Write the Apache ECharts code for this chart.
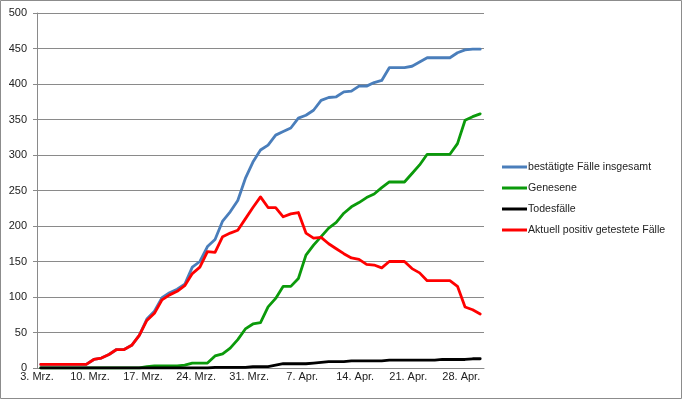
<!DOCTYPE html>
<html>
<head>
<meta charset="utf-8">
<script src="https://cdn.jsdelivr.net/npm/echarts@6/dist/echarts.min.js"></script>
<style>
  html, body { margin: 0; padding: 0; background: #fff; }
  #chart { width: 682px; height: 399px; }
</style>
</head>
<body>
<div id="chart"></div>
<script>
// Tage 3. Mrz. bis 30. Apr.
const days = [
  '3. Mrz.', '4. Mrz.', '5. Mrz.', '6. Mrz.', '7. Mrz.', '8. Mrz.', '9. Mrz.',
  '10. Mrz.', '11. Mrz.', '12. Mrz.', '13. Mrz.', '14. Mrz.', '15. Mrz.', '16. Mrz.',
  '17. Mrz.', '18. Mrz.', '19. Mrz.', '20. Mrz.', '21. Mrz.', '22. Mrz.', '23. Mrz.',
  '24. Mrz.', '25. Mrz.', '26. Mrz.', '27. Mrz.', '28. Mrz.', '29. Mrz.', '30. Mrz.',
  '31. Mrz.', '1. Apr.', '2. Apr.', '3. Apr.', '4. Apr.', '5. Apr.', '6. Apr.',
  '7. Apr.', '8. Apr.', '9. Apr.', '10. Apr.', '11. Apr.', '12. Apr.', '13. Apr.',
  '14. Apr.', '15. Apr.', '16. Apr.', '17. Apr.', '18. Apr.', '19. Apr.', '20. Apr.',
  '21. Apr.', '22. Apr.', '23. Apr.', '24. Apr.', '25. Apr.', '26. Apr.', '27. Apr.',
  '28. Apr.', '29. Apr.', '30. Apr.'
]

const bestaetigt = [
  5, 5, 5, 5, 5, 5, 5, 12, 14, 19, 26, 26, 32, 46, 69, 80, 99, 106, 111, 118,
  142, 150, 171, 181, 207, 220, 236, 267, 290, 307, 314, 328, 333, 338, 352, 356,
  363, 377, 381, 382, 389, 390, 397, 397, 402, 405, 423, 423, 423, 425, 431, 437,
  437, 437, 437, 444, 448, 449, 449
]

const genesen = [
  0, 0, 0, 0, 0, 0, 0, 0, 0, 0, 0, 0, 0, 0, 2, 3, 3, 3, 3, 4,
  7, 7, 7, 17, 20, 28, 40, 55, 62, 64, 86, 98, 115, 115, 126, 159,
  173, 185, 197, 205, 218, 227, 233, 240, 245, 254, 262, 262, 262, 274, 286, 301,
  301, 301, 301, 316, 349, 354, 358
]

const todesfaelle = [
  0, 0, 0, 0, 0, 0, 0, 0, 0, 0, 0, 0, 0, 0, 0, 0, 0, 0, 0, 0,
  0, 0, 0, 1, 1, 1, 1, 1, 2, 2, 2, 4, 6, 6, 6, 6,
  7, 8, 9, 9, 9, 10, 10, 10, 10, 10, 11, 11, 11, 11, 11, 11,
  11, 12, 12, 12, 12, 13, 13
]

const aktuell = [
  5, 5, 5, 5, 5, 5, 5, 12, 14, 19, 26, 26, 32, 46, 67, 77, 96, 103, 108, 116,
  133, 142, 164, 163, 185, 190, 194, 210, 226, 241, 226, 226, 213, 217, 219, 190,
  183, 184, 175, 168, 161, 155, 153, 146, 145, 141, 150, 150, 150, 140, 134, 123,
  123, 123, 123, 115, 86, 82, 76
]

const yTicks = [0, 500, 50]  // min, max, interval

const font = 'Liberation Sans, Arial, sans-serif'
const gridGray = '#8a8a8a'

function line(name, data, color) {
  return {
    name: name,
    type: 'line',
    data: data,
    symbol: 'none',
    animation: false,
    lineStyle: { color: color, width: 2.8, join: 'round', cap: 'round' },
    itemStyle: { color: color }
  }
}

let chart = echarts.init(document.getElementById('chart'))
chart.setOption({
  backgroundColor: '#fff',
  animation: false,
  grid: { left: 37, right: 198, top: 13, bottom: 31 },
  legend: {
    orient: 'vertical',
    left: 502,
    top: 161,
    padding: 0,
    icon: 'rect',
    itemWidth: 25,
    itemHeight: 3,
    itemGap: 9,
    textStyle: { fontFamily: font, fontSize: 10.6, color: '#222', padding: [0, 0, 0, -4], lineHeight: 12 },
    data: ['bestätigte Fälle insgesamt', 'Genesene', 'Todesfälle', 'Aktuell positiv getestete Fälle']
  },
  xAxis: {
    type: 'category',
    data: days,
    boundaryGap: true,
    axisLine: { lineStyle: { color: gridGray, width: 1 } },
    axisTick: { interval: 6, length: 5, lineStyle: { color: gridGray } },
    axisLabel: {
      interval: 6,
      fontFamily: font,
      fontSize: 11,
      color: '#222',
      margin: 3,
      padding: [0, 7.6, 0, 0]
    },
    splitLine: { show: false }
  },
  yAxis: {
    type: 'value',
    min: yTicks[0],
    max: yTicks[1],
    interval: yTicks[2],
    axisLine: { show: true, lineStyle: { color: gridGray, width: 1 } },
    axisTick: { show: true, length: 4, lineStyle: { color: gridGray } },
    axisLabel: { fontFamily: font, fontSize: 11, color: '#222', margin: 10 },
    splitLine: { lineStyle: { color: gridGray, width: 1 } }
  },
  graphic: [{
    type: 'rect',
    shape: { x: 0.5, y: 0.5, width: 681, height: 398 },
    style: { fill: 'none', stroke: '#8c8c8c', lineWidth: 1 },
    silent: true
  }],
  series: [
    line('bestätigte Fälle insgesamt', bestaetigt, '#4a7ebb'),
    line('Genesene', genesen, '#0b9a0b'),
    line('Todesfälle', todesfaelle, '#000000'),
    line('Aktuell positiv getestete Fälle', aktuell, '#ff0000')
  ]
})
</script>
</body>
</html>
